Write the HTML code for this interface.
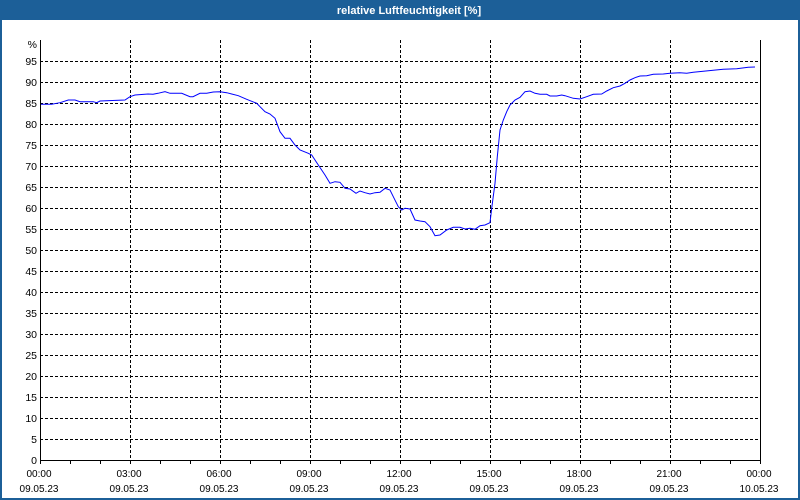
<!DOCTYPE html>
<html><head><meta charset="utf-8"><style>
html,body{margin:0;padding:0;background:#fff;}
svg{display:block;}
text{font-family:"Liberation Sans",Arial,sans-serif;fill:#000;}
</style></head><body>
<svg width="800" height="500" viewBox="0 0 800 500" xmlns="http://www.w3.org/2000/svg">
<rect x="0" y="0" width="800" height="500" fill="#ffffff"/>
<rect x="0" y="0" width="800" height="20" fill="#1c5f98"/>
<rect x="0" y="20" width="2" height="480" fill="#1c5f98"/>
<rect x="798" y="20" width="2" height="480" fill="#1c5f98"/>
<rect x="0" y="498" width="800" height="2" fill="#1c5f98"/>
<text x="409" y="14" text-anchor="middle" font-size="11" font-weight="bold" style="fill:#ffffff">relative Luftfeuchtigkeit [%]</text>

<g stroke="#000" stroke-width="1" stroke-dasharray="3,2" shape-rendering="crispEdges" fill="none">
<path d="M40 61.5H760M40 82.5H760M40 103.5H760M40 124.5H760M40 145.5H760M40 166.5H760M40 187.5H760M40 208.5H760M40 229.5H760M40 250.5H760M40 271.5H760M40 292.5H760M40 313.5H760M40 334.5H760M40 355.5H760M40 376.5H760M40 397.5H760M40 418.5H760M40 439.5H760"/>
<path d="M130.5 40V460M220.5 40V460M310.5 40V460M400.5 40V460M490.5 40V460M580.5 40V460M670.5 40V460"/>
</g>
<g stroke="#000" stroke-width="1" shape-rendering="crispEdges" fill="none">
<path d="M40.5 40V460.5H760.5V40"/>
<path d="M40.5 460V464M70.5 460V464M100.5 460V464M130.5 460V464M160.5 460V464M190.5 460V464M220.5 460V464M250.5 460V464M280.5 460V464M310.5 460V464M340.5 460V464M370.5 460V464M400.5 460V464M430.5 460V464M460.5 460V464M490.5 460V464M520.5 460V464M550.5 460V464M580.5 460V464M610.5 460V464M640.5 460V464M670.5 460V464M700.5 460V464M730.5 460V464M760.5 460V464"/>
</g>

<polyline fill="none" stroke="#0000ff" stroke-width="1" points="41,104.3 51.7,104.3 60,102.7 68.3,100 75,100 80,101.7 93.3,101.7 96.7,102.7 100,101 125,100 130,96.7 135,95 148,94 153,94.3 158,93.3 165,91.7 170,93.3 181.7,93.3 190,96.7 193,96.7 200,93.3 206.7,93.3 213.3,92 220,91.7 226.7,92.7 231.7,94 238.3,95.7 246.7,99.3 256.7,103.3 260,106.7 265,111.7 270,114 275,118.3 280,131.7 285,138.3 290,138.3 295,145 300,150 308.3,153.3 311.7,155 318.3,165 325,175 330,183.3 335,181.7 340,182.3 345,188.3 350,189 356,193.3 360,191 365,192.7 370,194 375,192.7 380,192.3 385,188.3 390,190 393.3,196.7 398.3,206.7 401.7,210 405,208.3 410,209 415,220 420,221 425,221.7 430,226.7 435,235.7 440,235 446.7,230 453.3,227.3 460,227.3 465,229 470,228.3 475,229.3 480,225.7 485,225 490,222.7 491.7,208.3 495,183.3 497.3,156.7 500,130 503.3,120 506.7,111.7 510,105 515,100 520,97.3 525,91.7 530,91 535,93.3 540,94.3 546.7,94.3 550,96 556.7,96 561.7,95 565,95.7 573.3,98.3 580,99 586.7,96.7 593.3,94.3 601.7,94 606.7,91 613.3,87.7 620,86 625,83.3 630,80 635,77.7 640,76 646.7,75.7 653.3,74.3 663.3,74 670,73.3 680,72.7 686.7,73.3 693.3,72.3 708.3,70.7 723.3,69.3 736.7,68.7 748.3,67.3 755,67"/>

<g font-size="10.5" text-anchor="end">
<text x="37" y="48">%</text>
<text x="37" y="65">95</text>
<text x="37" y="86">90</text>
<text x="37" y="107">85</text>
<text x="37" y="128">80</text>
<text x="37" y="149">75</text>
<text x="37" y="170">70</text>
<text x="37" y="191">65</text>
<text x="37" y="212">60</text>
<text x="37" y="233">55</text>
<text x="37" y="254">50</text>
<text x="37" y="275">45</text>
<text x="37" y="296">40</text>
<text x="37" y="317">35</text>
<text x="37" y="338">30</text>
<text x="37" y="359">25</text>
<text x="37" y="380">20</text>
<text x="37" y="401">15</text>
<text x="37" y="422">10</text>
<text x="37" y="443">5</text>
<text x="37" y="464">0</text>
</g>
<g font-size="10" text-anchor="middle">
<text x="39" y="477">00:00</text><text x="39" y="492">09.05.23</text>
<text x="129" y="477">03:00</text><text x="129" y="492">09.05.23</text>
<text x="219" y="477">06:00</text><text x="219" y="492">09.05.23</text>
<text x="309" y="477">09:00</text><text x="309" y="492">09.05.23</text>
<text x="399" y="477">12:00</text><text x="399" y="492">09.05.23</text>
<text x="489" y="477">15:00</text><text x="489" y="492">09.05.23</text>
<text x="579" y="477">18:00</text><text x="579" y="492">09.05.23</text>
<text x="669" y="477">21:00</text><text x="669" y="492">09.05.23</text>
<text x="759" y="477">00:00</text><text x="759" y="492">10.05.23</text>
</g>
</svg>
</body></html>
